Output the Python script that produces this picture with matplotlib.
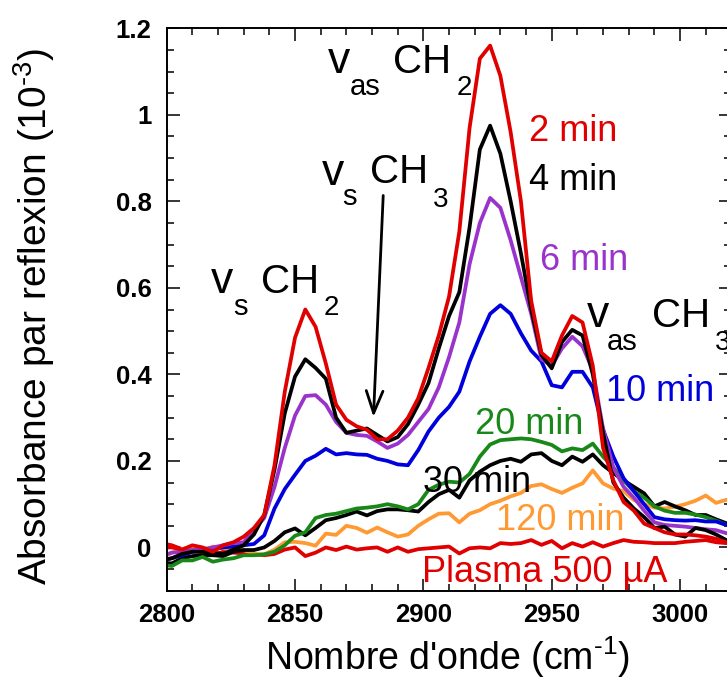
import numpy as np
import matplotlib
matplotlib.use("Agg")
import matplotlib.pyplot as plt
from matplotlib.ticker import MultipleLocator, FixedLocator, FixedFormatter

plt.rcParams['font.family'] = ['Liberation Sans', 'DejaVu Sans']
plt.rcParams['mathtext.fontset'] = 'custom'
plt.rcParams['mathtext.rm'] = 'Liberation Sans'
plt.rcParams['mathtext.it'] = 'Liberation Sans:italic'

# wavenumber grid (cm-1)
wn = np.arange(2798, 3023, 4)

# absorbance (x 1e-3)
a_2min = [0.0, 0.0, -0.005, 0.005, 0.0, -0.01, 0.005, 0.012, 0.025, 0.045,
          0.075, 0.19, 0.36, 0.485, 0.55, 0.51, 0.425, 0.33, 0.295, 0.28,
          0.272, 0.25, 0.25, 0.27, 0.3, 0.345, 0.415, 0.49, 0.58, 0.73,
          0.97, 1.13, 1.16, 1.09, 0.96, 0.8, 0.57, 0.45, 0.43, 0.49,
          0.535, 0.52, 0.42, 0.23, 0.155, 0.105, 0.085, 0.055, 0.045, 0.035,
          0.03, 0.03, 0.028, 0.025, 0.02, 0.012, 0.01]
a_4min = [-0.03, -0.025, -0.015, -0.01, -0.01, -0.012, -0.015, -0.005, 0.005, 0.03,
          0.075, 0.18, 0.31, 0.395, 0.435, 0.415, 0.39, 0.3, 0.265, 0.27,
          0.275, 0.26, 0.245, 0.255, 0.285, 0.33, 0.38, 0.46, 0.535, 0.59,
          0.74, 0.92, 0.975, 0.91, 0.8, 0.68, 0.55, 0.445, 0.414, 0.475,
          0.503, 0.49, 0.4, 0.265, 0.15, 0.115, 0.09, 0.07, 0.045, 0.048,
          0.03, 0.025, 0.045, 0.04, 0.03, 0.017, 0.015]
a_6min = [-0.02, -0.012, -0.01, -0.006, -0.004, 0.0, 0.005, 0.01, 0.012, 0.042,
          0.068, 0.14, 0.23, 0.305, 0.35, 0.352, 0.33, 0.29, 0.265, 0.26,
          0.258, 0.245, 0.23, 0.24, 0.26, 0.29, 0.32, 0.37, 0.44, 0.52,
          0.655, 0.75, 0.808, 0.785, 0.71, 0.625, 0.54, 0.435, 0.42, 0.46,
          0.487, 0.465, 0.41, 0.275, 0.185, 0.14, 0.115, 0.085, 0.058, 0.052,
          0.05, 0.048, 0.045, 0.042, 0.04, 0.033, 0.03]
a_10min = [-0.03, -0.025, -0.018, -0.01, -0.008, -0.004, 0.0, 0.002, 0.005, 0.008,
           0.028, 0.09, 0.135, 0.168, 0.2, 0.212, 0.228, 0.215, 0.218, 0.215,
           0.214, 0.205, 0.2, 0.192, 0.19, 0.225, 0.268, 0.3, 0.325, 0.36,
           0.43, 0.487, 0.54, 0.56, 0.54, 0.495, 0.455, 0.43, 0.375, 0.37,
           0.406, 0.406, 0.37, 0.272, 0.21, 0.16, 0.13, 0.1, 0.07, 0.065,
           0.063, 0.062, 0.063, 0.06, 0.06, 0.052, 0.05]
a_20min = [-0.04, -0.043, -0.03, -0.03, -0.022, -0.033, -0.028, -0.025, -0.018, -0.018,
           -0.016, -0.01, 0.005, 0.027, 0.035, 0.068, 0.075, 0.078, 0.084, 0.09,
           0.092, 0.095, 0.1, 0.095, 0.088, 0.1, 0.133, 0.145, 0.152, 0.15,
           0.17, 0.21, 0.238, 0.248, 0.25, 0.252, 0.25, 0.244, 0.237, 0.222,
           0.229, 0.225, 0.24, 0.21, 0.185, 0.155, 0.13, 0.115, 0.095, 0.085,
           0.08, 0.08, 0.076, 0.07, 0.062, 0.052, 0.05]
a_30min = [-0.035, -0.037, -0.025, -0.02, -0.018, -0.018, -0.02, -0.01, -0.006, -0.006,
           0.0, 0.015, 0.035, 0.044, 0.028, 0.045, 0.063, 0.068, 0.075, 0.083,
           0.074, 0.084, 0.088, 0.088, 0.086, 0.083, 0.105, 0.123, 0.133, 0.115,
           0.155, 0.175, 0.19, 0.2, 0.205, 0.198, 0.215, 0.218, 0.2, 0.19,
           0.21, 0.198, 0.215, 0.19, 0.172, 0.155, 0.14, 0.125, 0.095, 0.105,
           0.095, 0.086, 0.075, 0.075, 0.065, 0.056, 0.055]
a_120min = [-0.025, -0.012, -0.004, 0.002, -0.01, 0.002, -0.002, -0.004, -0.006, -0.015,
            -0.016, -0.005, 0.012, 0.013, 0.01, 0.004, 0.032, 0.029, 0.05, 0.045,
            0.034, 0.046, 0.035, 0.025, 0.03, 0.05, 0.065, 0.078, 0.079, 0.058,
            0.078, 0.086, 0.1, 0.108, 0.118, 0.126, 0.142, 0.146, 0.135, 0.126,
            0.138, 0.148, 0.178, 0.148, 0.136, 0.13, 0.11, 0.1, 0.092, 0.09,
            0.094, 0.1, 0.108, 0.12, 0.103, 0.11, 0.112]
a_plasma = [0.01, 0.005, -0.004, -0.006, -0.012, -0.018, -0.01, -0.012, -0.014, -0.016,
            -0.018, -0.015, -0.005, 0.0, -0.02, -0.012, 0.0, -0.006, 0.002, -0.005,
            -0.002, 0.0, -0.01, 0.0, -0.01, -0.004, -0.002, 0.0, 0.002, -0.014,
            -0.002, 0.0, -0.002, 0.01, 0.008, 0.01, 0.017, 0.006, 0.015, -0.002,
            0.01, 0.002, 0.012, 0.002, 0.01, 0.017, 0.013, 0.012, 0.01, 0.01,
            0.01, 0.013, 0.015, 0.017, 0.012, 0.01, 0.01]

red = '#e00000'
purple = '#9933cc'
blue = '#0000dd'
green = '#188818'
orange = '#ff9933'

series = [
    (a_plasma, red, 'Plasma 500 µA', 422, 582),
    (a_120min, orange, '120 min', 496, 530),
    (a_30min, 'black', '30 min', 423, 492),
    (a_20min, green, '20 min', 475, 434),
    (a_10min, blue, '10 min', 606, 401),
    (a_6min, purple, '6 min', 540, 270),
    (a_4min, 'black', '4 min', 529, 190),
    (a_2min, red, '2 min', 529, 141),
]

W, H = 727, 688
fig = plt.figure(figsize=(W / 100, H / 100), dpi=100)
ax = fig.add_axes([166.7 / W, 1 - 590.7 / H, (731.4 - 166.7) / W, (590.7 - 28.3) / H])

def px(x, y):
    return x / W, 1 - y / H

for vals, col, lab, tx, ty in series:
    ax.plot(wn, vals, color=col, lw=2.7, solid_joinstyle='round')
    fig.text(*px(tx, ty), lab, color=col, fontsize=26, ha='left', va='baseline')

# band assignments
bands = [
    # (v x, v y, sub, sub x, sub y, CH x, CH y, n, n x, n y)
    (327.6, 73.3, 'as', 349.8, 95, 393.3, 73.3, '2', 457, 95),
    (322, 185, 's', 342.4, 205, 370, 183.3, '3', 433.3, 206.7),
    (211, 293.3, 's', 233.2, 315, 261, 293.3, '2', 323.5, 315),
    (586.7, 326.7, 'as', 606.7, 350, 651.7, 326.7, '3', 715, 350),
]
for vx, vy, sub, sx, sy, cx, cy, n, nx, ny in bands:
    fig.text(*px(vx, vy), 'v', fontsize=32, va='baseline')
    fig.text(*px(sx, sy), sub, fontsize=21, va='baseline')
    fig.text(*px(cx, cy), 'CH', fontsize=29, va='baseline')
    fig.text(*px(nx, ny), n, fontsize=20, va='baseline')

ax.annotate('', xy=(2880.5, 0.295), xytext=(2884.4, 0.82),
            arrowprops=dict(arrowstyle='->,head_length=0.4,head_width=0.15',
                            mutation_scale=40, lw=2, color='black'))

ax.set_xlim(2800, 3020)
ax.set_ylim(-0.1, 1.2)
ax.xaxis.set_major_locator(MultipleLocator(50))
ax.xaxis.set_minor_locator(MultipleLocator(10))
yt = [0, 0.2, 0.4, 0.6, 0.8, 1.0, 1.2]
ax.yaxis.set_major_locator(FixedLocator(yt))
ax.yaxis.set_major_formatter(FixedFormatter(['0', '0.2', '0.4', '0.6', '0.8', '1', '1.2']))
ax.yaxis.set_minor_locator(MultipleLocator(0.05))
ax.tick_params(which='both', direction='in', top=True, right=True, width=1.1)
ax.tick_params(which='major', length=9)
ax.tick_params(which='minor', length=5)
ax.tick_params(axis='x', pad=9)
ax.tick_params(axis='y', pad=11)
for t in ax.get_xticklabels() + ax.get_yticklabels():
    t.set_fontsize(18.5)
    t.set_fontweight('bold')
for s in ax.spines.values():
    s.set_linewidth(1.4)

ax.set_xlabel("Nombre d'onde (cm$^{\\text{-1}}$)", fontsize=27)
ax.set_ylabel("Absorbance par reflexion (10$^{\\text{-3}}$)", fontsize=28)
ax.xaxis.set_label_coords((448 - 166.7) / 564.7, -(634 - 590.7) / 562.4)
ax.yaxis.set_label_coords(-(166.7 - 57) / 564.7, (590.7 - 316) / 562.4)

fig.savefig('out.png', dpi=100)
